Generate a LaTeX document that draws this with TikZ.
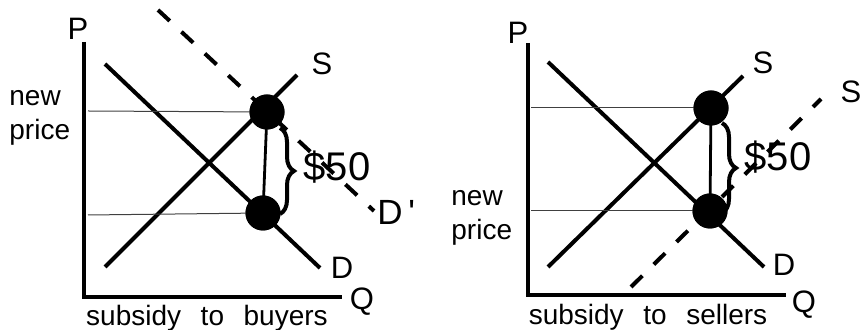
\documentclass[tikz,border=0pt]{standalone}
\usepackage{fontspec}
\setmainfont{Liberation Sans}
\usetikzlibrary{positioning, decorations.pathreplacing}

\begin{document}
\begin{tikzpicture}[
		% global settings (1 unit = 1 pixel of the sketch)
		x=0.5pt, y=-0.5pt,
		font=\fontsize{14}{16}\selectfont,
		% styles
		axis/.style={line width=2pt},
		curve/.style={line width=2pt},
		shifted/.style={line width=2pt, dash pattern=on 8pt off 8pt},
		guide/.style={line width=0.5pt, black!75},
		eqdot/.style={circle, fill=black, minimum size=17.5pt, inner sep=0pt},
		gap/.style={line width=1.4pt},
		bracket/.style={line width=2pt, decorate, decoration={brace, amplitude=7pt}},
		lbl/.style={inner sep=0pt},
		axlbl/.style={inner sep=0pt, font=\fontsize{15.5}{17}\selectfont},
		amount/.style={inner sep=0pt, font=\fontsize{20}{22}\selectfont}
		]
		\useasboundingbox (0,0) rectangle (862,330);
		
		% ==========================================
		% Left panel: subsidy to buyers
		% ==========================================
		
		% axes
		\coordinate (bo) at (84,297);
		\coordinate (btop) at (84,42);
		\coordinate (bright) at (342,297);
		\draw[axis] (btop) -- (bo) -- (bright);
		\node[axlbl] (bP) at (78,29) {P};
		\node[axlbl] (bQ) at (362,302) {Q};
		
		% demand, supply and shifted demand
		\coordinate (bD1) at (105,64);
		\coordinate (bD2) at (320,268);
		\coordinate (bS1) at (105,267);
		\coordinate (bS2) at (297,75);
		\coordinate (bDs1) at (158,10);
		\coordinate (bDs2) at (374,211);
		\draw[curve] (bD1) -- (bD2);
		\draw[curve] (bS1) -- (bS2);
		\draw[shifted] (bDs1) -- (bDs2);
		\node[axlbl] (bDlab) at (342,268) {D};
		\node[axlbl] (bSlab) at (322,64) {S};
		\node[axlbl, anchor=west, font=\fontsize{17.5}{19}\selectfont] (bDslab) at (377,212) {D\,\textquotesingle};
		
		% price lines
		\coordinate (bhi) at (88,111);
		\coordinate (blo) at (88,215);
		\node[eqdot] (bup) at (267,112) {};
		\node[eqdot] (bdn) at (263,213) {};
		\draw[guide] (bhi) -- (bup.center);
		\draw[guide] (blo) -- (bdn.center);
		\draw[gap] (bup.center) -- (bdn.center);
		\node[eqdot] at (bup) {};
		\node[eqdot] at (bdn) {};
		
		% the subsidy
		\coordinate (bbt) at (280,128);
		\coordinate (bbb) at (280,214);
		\draw[bracket] (bbt) -- (bbb);
		\node[amount] (bamt) at (337,167) {\$50};
		
		% labels
		\node[lbl, anchor=west] (bnew) at (9,98) {new};
		\node[lbl, anchor=west] (bprice) at (9,132) {price};
		\node[lbl] (bcap) at (207,318) {subsidy\hspace{0.7em}to\hspace{0.7em}buyers};
		
		% ==========================================
		% Right panel: subsidy to sellers
		% ==========================================
		
		% axes
		\coordinate (so) at (528,295);
		\coordinate (stop) at (528,43);
		\coordinate (sright) at (786,295);
		\draw[axis] (stop) -- (so) -- (sright);
		\node[axlbl] (sP) at (518,33) {P};
		\node[axlbl] (sQ) at (804,305) {Q};
		
		% demand, supply and shifted supply
		\coordinate (sD1) at (548,62);
		\coordinate (sD2) at (764,267);
		\coordinate (sS1) at (548,267);
		\coordinate (sS2) at (743,76);
		\coordinate (sSs1) at (631,287);
		\coordinate (sSs2) at (821,99);
		\draw[curve] (sD1) -- (sD2);
		\draw[curve] (sS1) -- (sS2);
		\draw[shifted] (sSs1) -- (sSs2);
		\node[axlbl] (sDlab) at (784,265) {D};
		\node[axlbl] (sSlab) at (763,63) {S};
		\node[axlbl] (sSslab) at (851,92) {S};
		
		% price lines
		\coordinate (shi) at (531,108);
		\coordinate (slo) at (531,211);
		\node[eqdot] (sup) at (711,108) {};
		\node[eqdot] (sdn) at (710,211) {};
		\draw[guide] (shi) -- (sup.center);
		\draw[guide] (slo) -- (sdn.center);
		\draw[gap] (sup.center) -- (sdn.center);
		\node[eqdot] at (sup) {};
		\node[eqdot] at (sdn) {};
		
		% the subsidy
		\coordinate (sbt) at (722,123);
		\coordinate (sbb) at (722,213);
		\draw[bracket] (sbt) -- (sbb);
		\node[amount] (samt) at (778,157) {\$50};
		
		% labels
		\node[lbl, anchor=west] (snew) at (451,198) {new};
		\node[lbl, anchor=west] (sprice) at (451,232) {price};
		\node[lbl] (scap) at (648,317) {subsidy\hspace{0.7em}to\hspace{0.7em}sellers};
		
	\end{tikzpicture}
\end{document}
